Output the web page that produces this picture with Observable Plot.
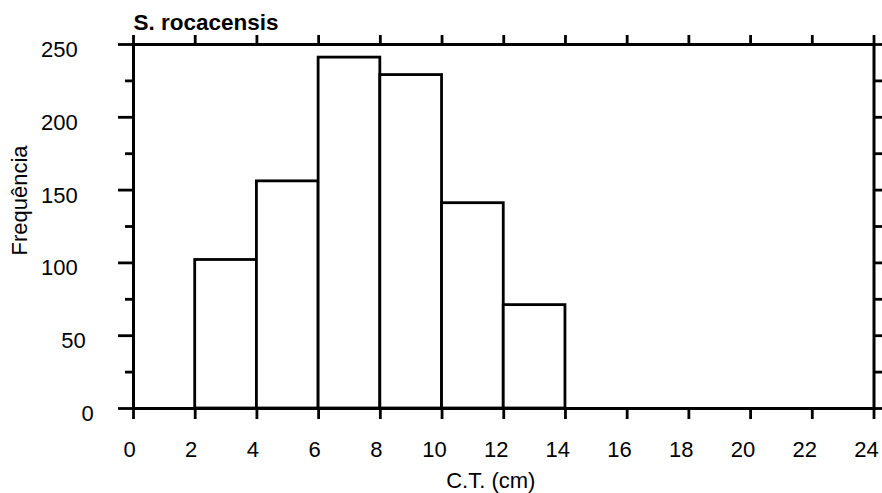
<!DOCTYPE html>
<html>
<head>
<meta charset="utf-8">
<script src="https://cdn.jsdelivr.net/npm/d3@7"></script>
<script src="https://cdn.jsdelivr.net/npm/@observablehq/plot@0.6"></script>
<style>
  html, body { margin: 0; padding: 0; background: #ffffff; }
</style>
</head>
<body>
<div id="chart"></div>
<script>
// ---- data ----
const title = "S. rocacensis";
const xLabel = "C.T. (cm)";
const yLabel = "Frequência";
const binStart = [0, 2, 4, 6, 8, 10, 12, 14, 16, 18, 20, 22];
const binEnd = [2, 4, 6, 8, 10, 12, 14, 16, 18, 20, 22, 24];
const frequency = [0, 102, 156, 241, 229, 141, 71, 0, 0, 0, 0, 0];
const xTicks = [0, 2, 4, 6, 8, 10, 12, 14, 16, 18, 20, 22, 24];
const yTicks = [0, 50, 100, 150, 200, 250];
const yMinorTicks = [25, 75, 125, 175, 225];

const bars = binStart.map((s, i) => ({start: s, end: binEnd[i], count: frequency[i]}));
const yAll = [...yTicks, ...yMinorTicks];

const FONT = "'Liberation Sans', Arial, Helvetica, sans-serif";
const FS = 22;
const LW = 2.8;
const noText = () => "";

const yLabelMarks = [1, 2, 3].map(n =>
  Plot.text(yTicks.filter(v => String(v).length === n), {
    y: d => d, text: d => String(d), frameAnchor: "left",
    textAnchor: "end", lineAnchor: "middle",
    dx: -(55.8 - 8 * (3 - n)), dy: 5.5, fontSize: FS, fill: "black"
  })
);
const xLabelMarks = [1, 2].map(n =>
  Plot.text(xTicks.filter(v => String(v).length === n), {
    x: d => d, text: d => String(d), frameAnchor: "bottom",
    textAnchor: "middle", lineAnchor: "middle",
    dy: 41, dx: -3.6 * n - 0.4, fontSize: FS, fill: "black"
  })
);

const chart = Plot.plot({
  width: 882,
  height: 493,
  marginLeft: 133,
  marginRight: 8.5,
  marginTop: 44,
  marginBottom: 85,
  style: {fontFamily: FONT, fontSize: FS + "px", background: "#ffffff", color: "black"},
  x: {domain: [0, 24]},
  y: {domain: [0, 250]},
  marks: [
    Plot.rect(bars, {x1: "start", x2: "end", y1: 0, y2: "count", fill: "white", stroke: "black", strokeWidth: LW}),
    Plot.frame({stroke: "black", strokeWidth: 3}),
    Plot.axisY(yTicks, {anchor: "left", tickSize: 15, tickFormat: noText, strokeWidth: LW, label: null}),
    Plot.axisY(yMinorTicks, {anchor: "left", tickSize: 8, tickFormat: noText, strokeWidth: LW, label: null}),
    Plot.axisY(yAll, {anchor: "right", tickSize: 8, tickFormat: noText, strokeWidth: LW, label: null}),
    Plot.axisX(xTicks, {anchor: "top", tickSize: 10, tickFormat: noText, strokeWidth: LW, label: null}),
    Plot.axisX(xTicks, {anchor: "bottom", tickSize: 11, tickFormat: noText, strokeWidth: LW, label: null}),
    ...yLabelMarks,
    ...xLabelMarks,
    Plot.text([xLabel], {text: d => d, frameAnchor: "bottom", textAnchor: "middle", lineAnchor: "middle", dy: 72.5, dx: -13, fontSize: FS, fill: "black"}),
    Plot.text([yLabel], {text: d => d, frameAnchor: "left", textAnchor: "middle", lineAnchor: "middle", rotate: -90, dx: -114, dy: -26, fontSize: FS, fill: "black"}),
    Plot.text([title], {text: d => d, frameAnchor: "top-left", textAnchor: "start", lineAnchor: "middle", dy: -21.5, fontSize: 22.5, fontWeight: "bold", fill: "black"})
  ]
});
document.getElementById("chart").appendChild(chart);
</script>
</body>
</html>
